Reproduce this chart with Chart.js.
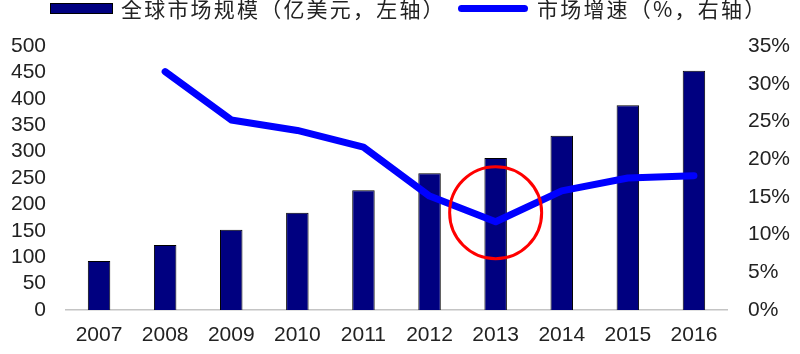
<!DOCTYPE html>
<html>
<head>
<meta charset="utf-8">
<script src="https://cdn.jsdelivr.net/npm/chart.js@4"></script>
<style>
  html, body { margin: 0; padding: 0; background: #fff; }
  #wrap { position: relative; width: 800px; height: 354px; overflow: hidden; }
  #c { position: absolute; left: 0; top: 0; }
  .lg { position: absolute; font-family: "Noto Sans CJK SC", sans-serif; font-size: 21px; color: #222; line-height: 1; white-space: nowrap; }
  .box { position: absolute; background: #000080; border: 1px solid #000; box-sizing: border-box; }
  .ln { position: absolute; background: #0000ff; border-radius: 4px; }
</style>
</head>
<body>
<div id="wrap">
  <canvas id="c" width="800" height="354"></canvas>
  <div class="box" style="left:50px;top:3px;width:63px;height:11px;"></div>
  <div class="lg" style="left:121px;top:-2px;letter-spacing:2.2px;">全球市场规模（亿美元，左轴）</div>
  <div class="ln" style="left:458px;top:5px;width:70px;height:7px;"></div>
  <div class="lg" style="left:537px;top:-2px;letter-spacing:2.2px;">市场增速（%，右轴）</div>
</div>
<script>
const categories = ['2007','2008','2009','2010','2011','2012','2013','2014','2015','2016'];
const marketSize = [93, 123, 152, 184, 227, 259, 288, 330, 388, 453];
const growthRate = [null, 31.6, 25.2, 23.8, 21.6, 15.1, 11.7, 15.8, 17.5, 17.8];
const leftTicks = [0, 50, 100, 150, 200, 250, 300, 350, 400, 450, 500];
const rightTicks = [0, 5, 10, 15, 20, 25, 30, 35];
const highlightIndex = 6;

const tickFont = { family: "'Liberation Sans', Arial, sans-serif", size: 21 };

const circlePlugin = {
  id: 'circle',
  afterDatasetsDraw(chart) {
    const ctx = chart.ctx;
    const x = chart.scales.x.getPixelForValue(highlightIndex);
    const y = chart.scales.y1.getPixelForValue(growthRate[highlightIndex] + 1.2);
    ctx.save();
    ctx.beginPath();
    ctx.arc(x, y, 46, 0, Math.PI * 2);
    ctx.strokeStyle = '#ff0000';
    ctx.lineWidth = 3;
    ctx.stroke();
    ctx.restore();
  }
};

new Chart(document.getElementById('c'), {
  data: {
    labels: categories,
    datasets: [
      {
        type: 'line',
        label: '市场增速（%，右轴）',
        data: growthRate,
        yAxisID: 'y1',
        borderColor: '#0000ff',
        borderWidth: 7,
        borderCapStyle: 'round',
        borderJoinStyle: 'round',
        pointRadius: 0,
        tension: 0,
        order: 0
      },
      {
        type: 'bar',
        label: '全球市场规模（亿美元，左轴）',
        data: marketSize,
        yAxisID: 'y',
        backgroundColor: '#000080',
        borderColor: '#000000',
        borderWidth: 1,
        barPercentage: 0.34,
        categoryPercentage: 1,
        order: 1
      }
    ]
  },
  options: {
    responsive: false,
    animation: false,
    layout: { padding: { top: 46, left: 0, right: 0, bottom: 0 } },
    plugins: { legend: { display: false }, tooltip: { enabled: false } },
    scales: {
      x: {
        grid: { display: false, drawTicks: false },
        border: { display: true, color: '#c4c4c4', width: 1.5 },
        ticks: { font: tickFont, color: '#222', padding: 13, maxRotation: 0, autoSkip: false },
        afterFit(s) { s.height = 44; }
      },
      y: {
        position: 'left',
        min: 0, max: 500,
        grid: { display: false, drawTicks: false },
        border: { display: false },
        afterBuildTicks(s) { s.ticks = leftTicks.map(v => ({ value: v })); },
        ticks: { font: tickFont, color: '#222', padding: 20, autoSkip: false },
        afterFit(s) { s.width = 66; }
      },
      y1: {
        position: 'right',
        min: 0, max: 35,
        grid: { display: false, drawTicks: false },
        border: { display: false },
        afterBuildTicks(s) { s.ticks = rightTicks.map(v => ({ value: v })); },
        ticks: { font: tickFont, color: '#222', padding: 21, autoSkip: false, callback: v => v + '%' },
        afterFit(s) { s.width = 73; }
      }
    }
  },
  plugins: [circlePlugin]
});
</script>
</body>
</html>
